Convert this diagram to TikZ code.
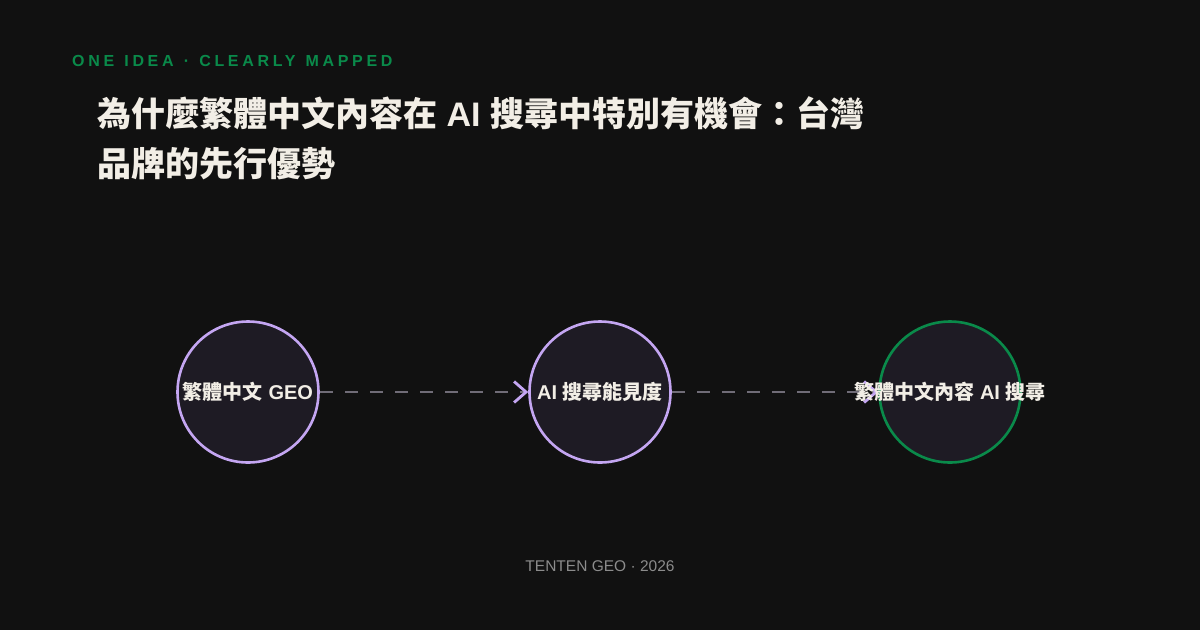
\documentclass[tikz,border=0pt]{standalone}
\usepackage{fontspec}
\setmainfont{Liberation Sans}
\newfontfamily\cjk{Noto Sans CJK TC}
\newfontfamily\kickerfont[LetterSpace=23,WordSpace=1.25]{Liberation Sans}
\newcommand{\zh}[1]{{\cjk #1}}
\usetikzlibrary{arrows.meta,positioning}
\definecolor{bg}{HTML}{111111}
\definecolor{ink}{HTML}{F2EEE6}
\definecolor{lav}{HTML}{C4A6F2}
\definecolor{grn}{HTML}{0A8A4A}
\definecolor{hubfill}{HTML}{1E1B24}
\definecolor{flowgrey}{HTML}{706C77}
\definecolor{muted}{HTML}{8C8C8C}

\begin{document}
\begin{tikzpicture}[x=1pt,y=-1pt,
  hub/.style={circle,line width=2.6pt,fill=hubfill,minimum size=141pt,inner sep=0pt},
  flow/.style={flowgrey,line width=2.7pt,dash pattern=on 13pt off 12pt,-{Straight Barb[length=12pt,width=21pt,color=lav,line width=2.8pt]}},
  lab/.style={ink,inner sep=0pt,font=\bfseries\fontsize{20}{24}\selectfont}]
\fill[bg] (0,0) rectangle (1200,630);
\useasboundingbox (0,0) rectangle (1200,630);
\node[anchor=base west,inner sep=0pt,grn,font=\kickerfont\bfseries\fontsize{16}{19}\selectfont] (kicker) at (72,66) {ONE IDEA · CLEARLY MAPPED};
\node[anchor=north west,inner sep=0pt,align=left,ink,font=\bfseries\fontsize{34}{50}\selectfont] (title) at (97,96) {\zh{為什麼繁體中文內容在} AI \zh{搜尋中特別有機會：台灣}\\\zh{品牌的先行優勢}};
% three hubs, left to right
\foreach \i/\x/\c in {1/248/lav,2/600/lav,3/950/grn}
  \node[hub,draw=\c] (n\i) at (\x,392) {};
\draw[flow] (n1) -- (n2);
\draw[flow] (n2) -- (n3);
\node[lab] (l1) at (n1) {\zh{繁體中文} GEO};
\node[lab] (l2) at (n2) {AI \zh{搜尋能見度}};
\node[lab] (l3) at (n3) {\zh{繁體中文內容} AI \zh{搜尋}};
\node[anchor=base,muted,font=\fontsize{15.5}{18}\selectfont] (foot) at (600,571) {TENTEN GEO · 2026};
\end{tikzpicture}
\end{document}
